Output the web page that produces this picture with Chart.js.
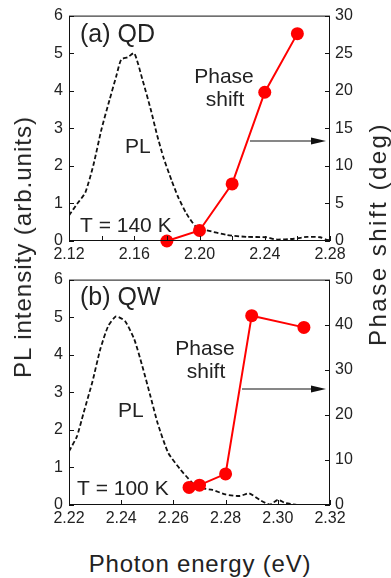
<!DOCTYPE html>
<html lang="en">
<head>
<meta charset="UTF-8" />
<title>PL intensity and phase shift</title>
<script src="https://cdn.jsdelivr.net/npm/chart.js"></script>
<style>
  body {
    margin: 0;
    background: #fff;
    font-family: 'Liberation Sans', Arial, sans-serif;
    color: #222;
  }

  .wrap {
    position: relative;
    width: 391px;
    height: 578px;
    overflow: hidden;
  }

  .panel {
    position: absolute;
    left: 0;
  }

  #qd { top: 0; }
  #qw { top: 264px; }

  .title {
    position: absolute;
    font-size: 24px;
    line-height: 24px;
    white-space: nowrap;
  }

  #ytitle {
    left: 23px;
    top: 247px;
    letter-spacing: 1px;
    transform: translate(-50%, -50%) rotate(-90deg);
  }

  #y1title {
    left: 378px;
    top: 234px;
    letter-spacing: 2.5px;
    transform: translate(-50%, -50%) rotate(-90deg);
  }

  #xtitle {
    left: 200px;
    top: 552px;
    letter-spacing: 0.8px;
    transform: translateX(-50%);
  }
</style>
</head>
<body>
<div class="wrap">
  <canvas id="qd" class="panel" width="391" height="268"></canvas>
  <canvas id="qw" class="panel" width="391" height="270"></canvas>
  <div class="title" id="ytitle">PL intensity (arb.units)</div>
  <div class="title" id="y1title">Phase shift (deg)</div>
  <div class="title" id="xtitle">Photon energy (eV)</div>
</div>

<script>
  // (a) quantum dots, T = 140 K
  const qdEnergy = [2.12, 2.125, 2.13, 2.135, 2.14, 2.145, 2.149, 2.152, 2.156, 2.16, 2.165, 2.17, 2.174,
    2.178, 2.183, 2.187, 2.192, 2.198, 2.204, 2.217, 2.229, 2.241, 2.247, 2.258, 2.266, 2.274, 2.278, 2.28];
  const qdPL = [0.68, 0.99, 1.29, 2.03, 2.99, 3.78, 4.39, 4.83, 4.89, 5.0, 4.3, 3.52, 2.82,
    2.21, 1.6, 1.16, 0.73, 0.37, 0.29, 0.16, 0.11, 0.1, 0.04, 0.06, 0.11, 0.1, 0.03, 0.02];
  const qdPhaseEnergy = [2.18, 2.20, 2.22, 2.24, 2.26];
  const qdPhase = [0, 1.4, 7.6, 19.8, 27.6];

  // (b) quantum well, T = 100 K
  const qwEnergy = [2.22, 2.223, 2.2255, 2.229, 2.232, 2.235, 2.238, 2.2415, 2.245, 2.248, 2.251, 2.254,
    2.258, 2.2625, 2.267, 2.27, 2.275, 2.28, 2.2855, 2.289, 2.293, 2.297, 2.3, 2.303, 2.307];
  const qwPL = [1.43, 1.82, 2.43, 3.29, 4.15, 4.76, 5.02, 4.89, 4.41, 3.72, 2.95, 2.17,
    1.39, 0.96, 0.61, 0.46, 0.4, 0.28, 0.24, 0.31, 0.14, 0.01, 0.14, 0.05, 0.01];
  const qwPhaseEnergy = [2.266, 2.270, 2.280, 2.290, 2.310];
  const qwPhase = [3.9, 4.4, 6.9, 42.0, 39.4];

  // axis ticks and their labels
  const qdEnergyTicks = [2.12, 2.14, 2.16, 2.18, 2.20, 2.22, 2.24, 2.26, 2.28];
  const qdEnergyLabels = ['2.12', '', '2.16', '', '2.20', '', '2.24', '', '2.28'];
  const qwEnergyTicks = [2.22, 2.24, 2.26, 2.28, 2.30, 2.32];
  const qwEnergyLabels = ['2.22', '2.24', '2.26', '2.28', '2.30', '2.32'];
  const plTicks = [0, 1, 2, 3, 4, 5, 6];
  const qdPhaseTicks = [0, 5, 10, 15, 20, 25, 30];
  const qwPhaseTicks = [0, 10, 20, 30, 40, 50];

  const ink = '#222';
  const tickFont = { family: "'Liberation Sans', Arial, sans-serif", size: 16 };

  // frame, inward tick marks, labels and arrow
  const panelDecor = {
    id: 'panelDecor',
    afterDraw(chart, args, opts) {
      const { ctx, chartArea: a, scales } = chart;
      ctx.save();
      ctx.strokeStyle = '#111';
      ctx.lineWidth = 1;
      ctx.strokeRect(a.left + 0.5, a.top + 0.5, a.right - a.left - 1, a.bottom - a.top - 1);

      const len = 5;
      ctx.beginPath();
      scales.x.ticks.forEach(t => {
        const px = Math.round(scales.x.getPixelForValue(t.value)) + 0.5;
        ctx.moveTo(px, a.bottom);
        ctx.lineTo(px, a.bottom - len);
      });
      scales.y.ticks.forEach(t => {
        const py = Math.round(scales.y.getPixelForValue(t.value)) + 0.5;
        ctx.moveTo(a.left, py);
        ctx.lineTo(a.left + len, py);
      });
      scales.y1.ticks.forEach(t => {
        const py = Math.round(scales.y1.getPixelForValue(t.value)) + 0.5;
        ctx.moveTo(a.right, py);
        ctx.lineTo(a.right - len, py);
      });
      ctx.stroke();

      ctx.fillStyle = ink;
      opts.texts.forEach(t => {
        ctx.font = t.size + "px 'Liberation Sans', Arial, sans-serif";
        ctx.textAlign = t.align || 'left';
        ctx.textBaseline = 'alphabetic';
        ctx.fillText(t.text, t.x, t.y);
      });

      const ar = opts.arrow;
      ctx.strokeStyle = '#111';
      ctx.lineWidth = 1.2;
      ctx.beginPath();
      ctx.moveTo(ar.x0, ar.y);
      ctx.lineTo(ar.x1 - 12, ar.y);
      ctx.stroke();
      ctx.fillStyle = '#111';
      ctx.beginPath();
      ctx.moveTo(ar.x1, ar.y);
      ctx.lineTo(ar.x1 - 15, ar.y - 3.5);
      ctx.lineTo(ar.x1 - 15, ar.y + 3.5);
      ctx.closePath();
      ctx.fill();
      ctx.restore();
    }
  };

  function toPoints(xs, ys) {
    return xs.map((x, i) => ({ x: x, y: ys[i] }));
  }

  function makePanel(id, cfg) {
    const h = document.getElementById(id).height;
    return new Chart(document.getElementById(id), {
      type: 'line',
      data: {
        datasets: [
          {
            data: toPoints(cfg.plX, cfg.plY),
            yAxisID: 'y',
            borderColor: '#111',
            borderWidth: 1.8,
            borderDash: [4.5, 2.5],
            pointRadius: 0,
            tension: 0.2,
            order: 2
          },
          {
            data: toPoints(cfg.phX, cfg.phY),
            yAxisID: 'y1',
            borderColor: '#ff0000',
            backgroundColor: '#ff0000',
            borderWidth: 2,
            pointRadius: 6.5,
            pointBorderWidth: 0,
            tension: 0,
            clip: false,
            order: 1
          }
        ]
      },
      options: {
        responsive: false,
        animation: false,
        events: [],
        layout: { padding: { top: 12, left: 0, right: 0, bottom: 0 } },
        plugins: {
          legend: { display: false },
          tooltip: { enabled: false },
          panelDecor: { texts: cfg.texts, arrow: cfg.arrow }
        },
        scales: {
          x: {
            type: 'linear',
            min: cfg.xTicks[0],
            max: cfg.xTicks[cfg.xTicks.length - 1],
            grid: { display: false, drawTicks: false },
            border: { display: false },
            afterBuildTicks: s => { s.ticks = cfg.xTicks.map(v => ({ value: v })); },
            afterFit: s => { s.height = h - 12 - 229; },
            ticks: {
              autoSkip: false,
              maxRotation: 0,
              padding: 4,
              color: ink,
              font: tickFont,
              callback: (v, i) => cfg.xLabels[i]
            }
          },
          y: {
            position: 'left',
            min: 0,
            max: 6,
            grid: { display: false, drawTicks: false },
            border: { display: false },
            afterBuildTicks: s => { s.ticks = plTicks.map(v => ({ value: v })); },
            afterFit: s => { s.width = 69; },
            ticks: { padding: 6, color: ink, font: tickFont, callback: v => String(v) }
          },
          y1: {
            position: 'right',
            min: 0,
            max: cfg.y1Ticks[cfg.y1Ticks.length - 1],
            grid: { display: false, drawTicks: false },
            border: { display: false },
            afterBuildTicks: s => { s.ticks = cfg.y1Ticks.map(v => ({ value: v })); },
            afterFit: s => { s.width = 61; },
            ticks: { padding: 5, color: ink, font: tickFont, callback: v => String(v) }
          }
        }
      },
      plugins: [panelDecor]
    });
  }

  makePanel('qd', {
    plX: qdEnergy, plY: qdPL,
    phX: qdPhaseEnergy, phY: qdPhase,
    xTicks: qdEnergyTicks, xLabels: qdEnergyLabels,
    y1Ticks: qdPhaseTicks,
    texts: [
      { text: '(a) QD', x: 80, y: 42, size: 25 },
      { text: 'Phase', x: 224, y: 83, size: 21, align: 'center' },
      { text: 'shift', x: 225, y: 106, size: 21, align: 'center' },
      { text: 'PL', x: 125, y: 153, size: 21 },
      { text: 'T = 140 K', x: 80, y: 232, size: 21 }
    ],
    arrow: { x0: 250, x1: 326, y: 141 }
  });

  makePanel('qw', {
    plX: qwEnergy, plY: qwPL,
    phX: qwPhaseEnergy, phY: qwPhase,
    xTicks: qwEnergyTicks, xLabels: qwEnergyLabels,
    y1Ticks: qwPhaseTicks,
    texts: [
      { text: '(b) QW', x: 80, y: 41, size: 25 },
      { text: 'Phase', x: 205, y: 91, size: 21, align: 'center' },
      { text: 'shift', x: 206, y: 114, size: 21, align: 'center' },
      { text: 'PL', x: 118, y: 153, size: 21 },
      { text: 'T = 100 K', x: 77, y: 231, size: 21 }
    ],
    arrow: { x0: 242, x1: 326, y: 125 }
  });
</script>
</body>
</html>
